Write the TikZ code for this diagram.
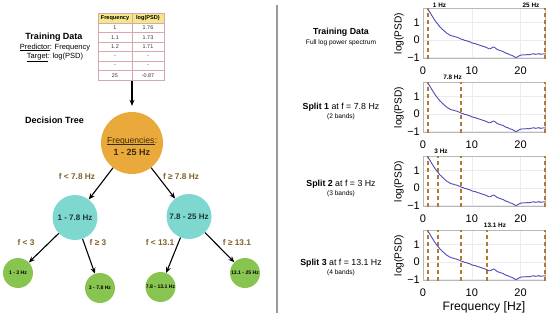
\documentclass[tikz,border=0pt]{standalone}
\usepackage{fontspec}
\setmainfont{Liberation Sans}
\usetikzlibrary{arrows.meta}
\definecolor{hdr}{HTML}{F4E78A}
\definecolor{gridc}{HTML}{D8A8B0}
\definecolor{orng}{HTML}{EAA93B}
\definecolor{cyn}{HTML}{7ED8D0}
\definecolor{grn}{HTML}{88C450}
\definecolor{lbl}{HTML}{80602A}
\definecolor{splitc}{HTML}{B07A35}
\definecolor{psdc}{HTML}{4C4CB8}
\definecolor{sepc}{HTML}{9A9A9A}
\definecolor{roottext}{HTML}{3A2A10}
\definecolor{midtext}{HTML}{1A3533}
\newcommand{\myfs}[1]{\fontsize{#1}{#1}\selectfont}
\newcommand{\psdcurve}{\draw[psdl] (1,1.72) -- (1.25,1.66) -- (1.5,1.55) -- (1.75,1.42) -- (2,1.32) -- (2.25,1.2) -- (2.5,1.1) -- (2.75,1.0) -- (3,0.92) -- (3.25,0.82) -- (3.5,0.74) -- (3.75,0.68) -- (4,0.6) -- (4.25,0.55) -- (4.5,0.48) -- (4.75,0.42) -- (5,0.36) -- (5.25,0.33) -- (5.5,0.28) -- (5.75,0.25) -- (6,0.23) -- (6.25,0.22) -- (6.5,0.19) -- (6.75,0.17) -- (7,0.16) -- (7.25,0.12) -- (7.5,0.1) -- (7.75,0.06) -- (8,0.03) -- (8.25,0.02) -- (8.5,-0.02) -- (8.75,-0.03) -- (9,-0.05) -- (9.25,-0.08) -- (9.5,-0.09) -- (9.75,-0.13) -- (10,-0.16) -- (10.25,-0.18) -- (10.5,-0.2) -- (10.75,-0.21) -- (11,-0.24) -- (11.25,-0.27) -- (11.5,-0.28) -- (11.75,-0.31) -- (12,-0.33) -- (12.25,-0.36) -- (12.5,-0.38) -- (12.75,-0.4) -- (13,-0.43) -- (13.25,-0.46) -- (13.5,-0.5) -- (13.75,-0.5) -- (14,-0.47) -- (14.25,-0.42) -- (14.5,-0.4) -- (14.75,-0.44) -- (15,-0.5) -- (15.25,-0.55) -- (15.5,-0.57) -- (15.75,-0.6) -- (16,-0.62) -- (16.25,-0.64) -- (16.5,-0.67) -- (16.75,-0.72) -- (17,-0.75) -- (17.25,-0.77) -- (17.5,-0.8) -- (17.75,-0.84) -- (18,-0.86) -- (18.25,-0.88) -- (18.5,-0.92) -- (18.75,-0.97) -- (19,-1.0) -- (19.25,-0.98) -- (19.5,-0.94) -- (19.75,-0.9) -- (20,-0.87) -- (20.25,-0.85) -- (20.5,-0.86) -- (20.75,-0.84) -- (21,-0.85) -- (21.5,-0.83) -- (21.75,-0.85) -- (22,-0.82) -- (22.5,-0.8) -- (22.75,-0.78) -- (23,-0.82) -- (23.5,-0.8) -- (23.75,-0.77) -- (24,-0.82) -- (24.5,-0.8) -- (25,-0.79);}
% #1 top of axes box (px), #2 id
\newcommand{\psdaxes}[2]{%
  \begin{scope}[shift={(423,#1+32)}, xscale=4.88, yscale=-17.5]
    \draw[gridl] (10,-1.07) -- (10,1.83) (20,-1.07) -- (20,1.83) (0,-1) -- (25,-1) (0,0) -- (25,0) (0,1) -- (25,1);
    \draw[boxl] (0,-1.07) rectangle (25,1.83);
  \end{scope}
  \node[ytk] (#2ya) at (420,#1+14.5) {1};
  \node[ytk] (#2yb) at (420,#1+32) {0};
  \node[ytk] (#2yc) at (420,#1+49.5) {−1};
  \node[xtk] (#2xa) at (423,#1+62.7) {0};
  \node[xtk] (#2xb) at (471.8,#1+62.7) {10};
  \node[xtk] (#2xc) at (520.6,#1+62.7) {20};
  \node[ylab] (#2yl) at (399,#1+25.4) {log(PSD)};
}
% split line: #1 top px, #2 x px
\newcommand{\splitline}[2]{\draw[splitl] (#2,#1+51) -- (#2,#1);}
\newcommand{\psdtrace}[1]{%
  \begin{scope}[shift={(423,#1+32)}, xscale=4.88, yscale=-17.5]
    \psdcurve
  \end{scope}}
\begin{document}
\begin{tikzpicture}[x=1pt, y=-1pt,
  arr/.style={-{Stealth[length=6pt,width=5pt]}, line width=1.1pt, black},
  condb/.style={font=\myfs{8.3}\bfseries, text=lbl, inner sep=0},
  rootn/.style={circle, fill=orng, minimum size=62pt, inner sep=0},
  midn/.style={circle, fill=cyn, minimum size=45pt, inner sep=0, font=\myfs{8}\bfseries, text=midtext},
  leafn/.style={circle, fill=grn, minimum size=30pt, inner sep=0, font=\myfs{5.1}\bfseries, text=black},
  tcell/.style={font=\myfs{5.4}, text=black!80, inner sep=0},
  thead/.style={font=\myfs{5.6}\bfseries, inner sep=0},
  gridl/.style={draw=black!8, line width=0.4pt},
  boxl/.style={draw=black!28, line width=0.6pt},
  splitl/.style={draw=splitc, line width=1.5pt, dash pattern=on 4pt off 3pt},
  psdl/.style={draw=psdc, line width=0.9pt, line join=round},
  ytk/.style={anchor=east, font=\myfs{11}, inner sep=0},
  xtk/.style={font=\myfs{11}, inner sep=0},
  ylab/.style={rotate=90, font=\myfs{10.2}, inner sep=0},
  hzl/.style={font=\myfs{6.4}\bfseries, inner sep=0},
  headl/.style={font=\myfs{8.8}, inner sep=0},
  subl/.style={font=\myfs{6.6}, inner sep=0},
  sepl/.style={draw=sepc, line width=1.1pt}]
\useasboundingbox (0,0) rectangle (550,317);

% ---- left: training data
\node[font=\myfs{9}\bfseries, inner sep=0] (ltd) at (54,37) {Training Data};
\node[font=\myfs{7.5}, inner sep=0] (lpred) at (55,47.5) {\underline{Predictor}: Frequency};
\node[font=\myfs{7.5}, inner sep=0] (ltgt) at (55,57.3) {\underline{Target}: log(PSD)};

% table
\fill[hdr] (98,13) rectangle (164,23);
\draw[gridc, line width=0.5pt] (132,13) -- (132,80);
\foreach \yy in {23,32.5,42,51.5,61,70.5} {\draw[gridc, line width=0.5pt] (98,\yy) -- (164,\yy);}
\node[draw=gridc, line width=0.5pt, minimum width=66pt, minimum height=67pt, inner sep=0, anchor=north west] (tbl) at (98,13) {};
\node[thead] (h1) at (115,18) {Frequency};
\node[thead] (h2) at (148,18) {log(PSD)};
\node[tcell] (r1a) at (115,27.75) {1};   \node[tcell] (r1b) at (148,27.75) {1.76};
\node[tcell] (r2a) at (115,37.25) {1.1}; \node[tcell] (r2b) at (148,37.25) {1.73};
\node[tcell] (r3a) at (115,46.75) {1.2}; \node[tcell] (r3b) at (148,46.75) {1.71};
\node[tcell] (r4a) at (115,56.25) {-};   \node[tcell] (r4b) at (148,56.25) {-};
\node[tcell] (r5a) at (115,65.75) {-};   \node[tcell] (r5b) at (148,65.75) {-};
\node[tcell] (r6a) at (115,75.25) {25};  \node[tcell] (r6b) at (148,75.25) {-0.87};

% ---- decision tree
\node[font=\myfs{9}\bfseries, inner sep=0] (dt) at (54.5,120) {Decision Tree};
\node[rootn] (root) at (132,143) {};
\node[font=\myfs{8.6}, text=roottext, inner sep=0, anchor=base] (rootw) at (130.8,143.5) {Frequencies};
\node[font=\myfs{8.6}, text=roottext, inner sep=0, anchor=base west] (rootc) at (rootw.base east) {:};
\draw[roottext, line width=0.45pt] ([yshift=-1.2pt]rootw.base west) -- ([yshift=-1.2pt]rootw.base east);
\node[font=\myfs{9}\bfseries, text=roottext, inner sep=0] (rootl2) at (132,152.5) {1 - 25 Hz};
\draw[arr, shorten >=6pt] (tbl.south -| root.north) -- (root.north);

\node[midn] (c1) at (75,217.5) {1 - 7.8 Hz};
\node[midn] (c2) at (189,216.5) {7.8 - 25 Hz};
\node[leafn] (g1) at (18,273) {1 - 3 Hz};
\node[leafn] (g2) at (100,288) {3 - 7.8 Hz};
\node[leafn] (g3) at (160.5,287) {7.8 - 13.1 Hz};
\node[leafn] (g4) at (245,273) {13.1 - 25 Hz};

\draw[arr] (root) -- (c1);
\draw[arr] (root) -- (c2);
\draw[arr] (c1) -- (g1);
\draw[arr] (c1) -- (g2);
\draw[arr] (c2) -- (g3);
\draw[arr] (c2) -- (g4);

\node[condb] (k1) at (77,177) {f < 7.8 Hz};
\node[condb] (k2) at (181,177) {f ≥ 7.8 Hz};
\node[condb] (k3) at (26,243) {f < 3};
\node[condb] (k4) at (98,243) {f ≥ 3};
\node[condb] (k5) at (160,243) {f < 13.1};
\node[condb] (k6) at (237,243) {f ≥ 13.1};

% ---- separator
\coordinate (sept) at (277,5);
\coordinate (sepb) at (277,313);
\draw[sepl] (sept) -- (sepb);

% ---- right: labels
\node[font=\myfs{8.8}\bfseries, inner sep=0] (rtd) at (341,32) {Training Data};
\node[subl] (rtds) at (341,43) {Full log power spectrum};
\node[headl] (s1) at (341,107) {\textbf{Split 1} at f = 7.8 Hz};
\node[subl] (s1s) at (341,117) {(2 bands)};
\node[headl] (s2) at (341,184) {\textbf{Split 2} at f = 3 Hz};
\node[subl] (s2s) at (341,194) {(3 bands)};
\node[headl] (s3) at (341,263) {\textbf{Split 3} at f = 13.1 Hz};
\node[subl] (s3s) at (341,272.5) {(4 bands)};

% ---- plots (1 Hz = 427.9, 3 Hz ~ 438, 7.8 Hz = 461.1, 13.1 Hz = 486.9, 25 Hz = 545)
\psdaxes{8}{pa}
\splitline{8}{427.9}\splitline{8}{545}
\psdtrace{8}
\psdaxes{82}{pb}
\splitline{82}{427.9}\splitline{82}{461.1}\splitline{82}{545}
\psdtrace{82}
\psdaxes{156}{pc}
\splitline{156}{427.9}\splitline{156}{438}\splitline{156}{461.1}\splitline{156}{545}
\psdtrace{156}
\psdaxes{230}{pd}
\splitline{230}{427.9}\splitline{230}{438}\splitline{230}{461.1}\splitline{230}{486.9}\splitline{230}{545}
\psdtrace{230}

\node[hzl] (hz1) at (439.5,5.5) {1 Hz};
\node[hzl] (hz25) at (531,5.5) {25 Hz};
\node[hzl] (hz78) at (452.5,77) {7.8 Hz};
\node[hzl] (hz3) at (441,151.5) {3 Hz};
\node[hzl] (hz131) at (495,225.5) {13.1 Hz};
\node[font=\myfs{12.2}, inner sep=0] (xlab) at (484,307) {Frequency [Hz]};
\end{tikzpicture}
\end{document}
